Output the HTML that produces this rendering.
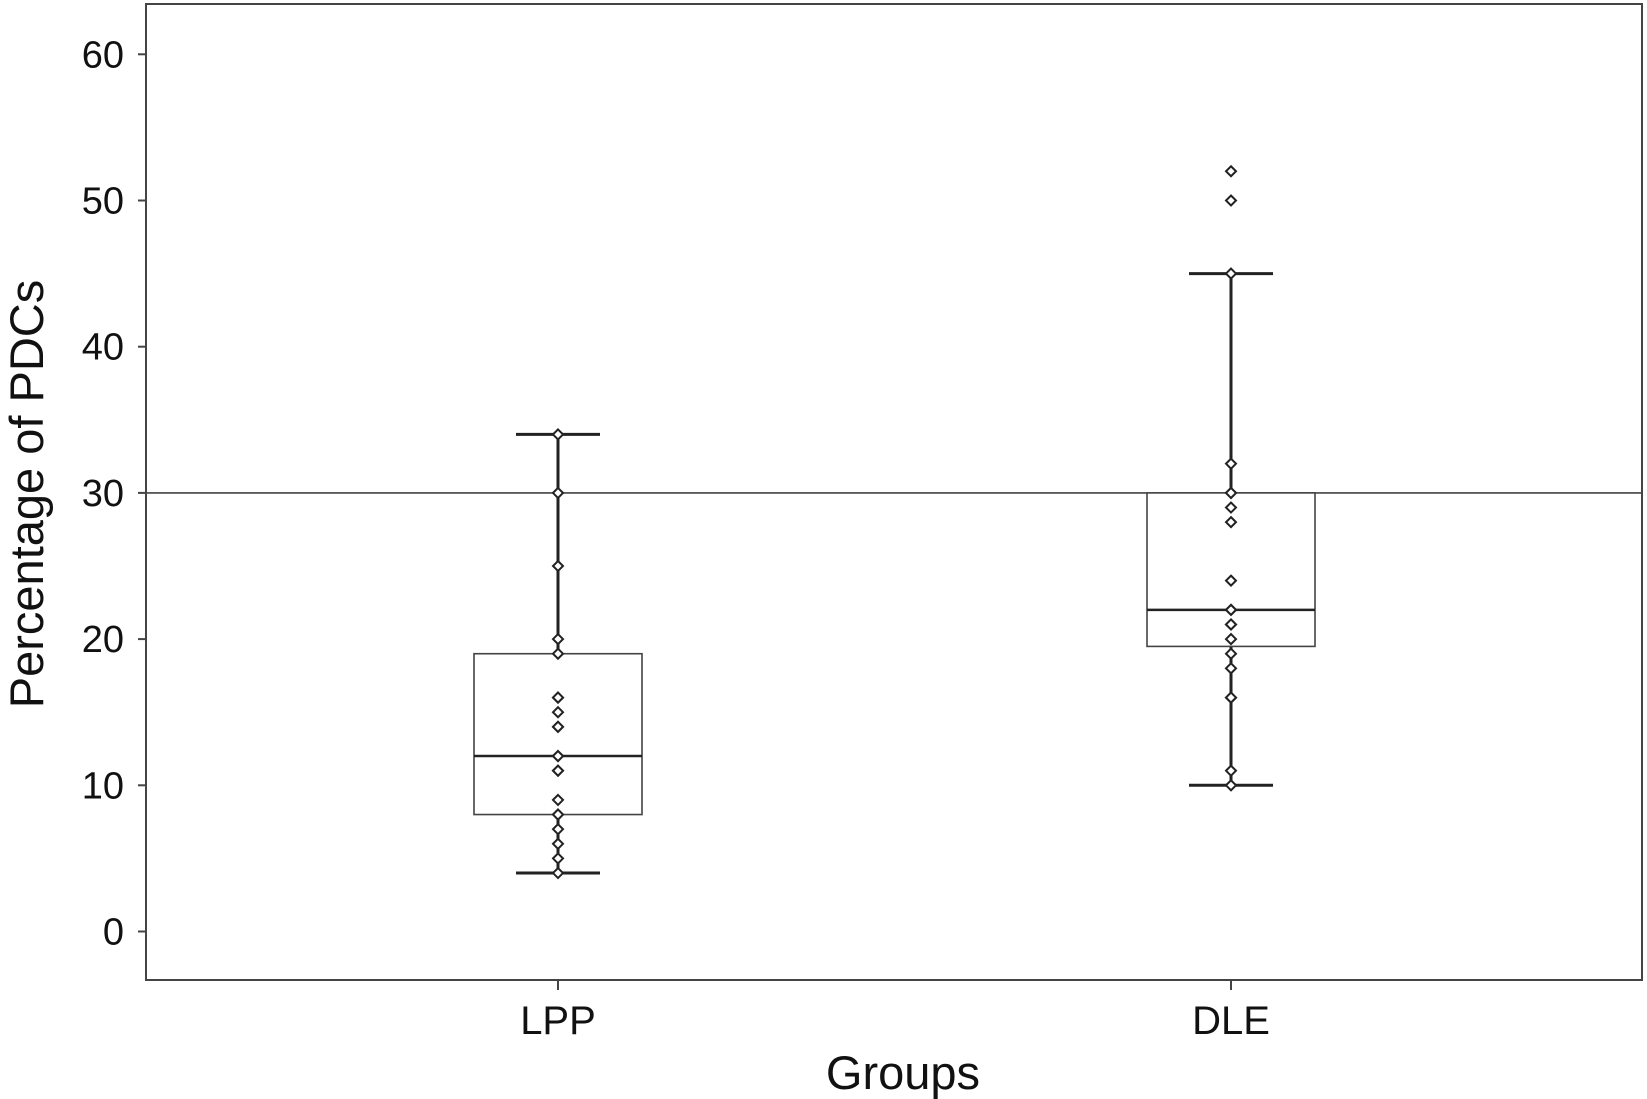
<!DOCTYPE html>
<html><head><meta charset="utf-8"><style>
body{margin:0;background:#fff;}
svg{display:block;font-family:"Liberation Sans",sans-serif;}
</style></head><body>
<svg id="chart" width="1647" height="1099" viewBox="0 0 1647 1099"></svg>
<script>
const categories = ["LPP","DLE"];
const mins = [4,10];
const q1s = [8,19.5];
const medians = [12,22];
const q3s = [19,30];
const maxs = [34,45];
const pointsLPP = [34,30,25,20,19,16,16,15,14,14,12,12,11,11,9,8,8,7,6,5,4];
const pointsDLE = [52,50,45,32,30,30,29,28,24,22,22,21,21,20,19,18,16,16,11,10];
const yTicks = [0,10,20,30,40,50,60];
const refValue = 30;

const svg = document.getElementById('chart');
const NS = 'http://www.w3.org/2000/svg';
const L=146,R=1642,T=4,B=980;
const y = v => 931.5 - v*14.62;
const xPos = [558,1231];
const x = i => xPos[i];
function mk(tag, attrs, parent){const e=document.createElementNS(NS,tag);for(const k in attrs)e.setAttribute(k,attrs[k]);(parent||svg).appendChild(e);return e;}

const frame = mk('rect',{x:L,y:T,width:R-L,height:B-T,fill:'none',stroke:'#444','stroke-width':2});



yTicks.forEach(v=>{
  const t = mk('line',{x1:L-8,x2:L,y1:y(v),y2:y(v),stroke:'#444','stroke-width':2});
  
  
  const lb = mk('text',{x:L-22,y:y(v)+13,'text-anchor':'end','font-size':38,fill:'#111'});
  lb.textContent = v;
  
  
});

const ref = mk('line',{x1:L,x2:R,y1:y(refValue),y2:y(refValue),stroke:'#444','stroke-width':1.6});



const allPts=[pointsLPP,pointsDLE];
categories.forEach((c,i)=>{
  const cx=x(i), bw=84, cw=42;
  const g = mk('g',{});
  
  
  const w1 = mk('line',{x1:cx,x2:cx,y1:y(q3s[i]),y2:y(maxs[i]),stroke:'#222','stroke-width':3},g);
  
  
  const w2 = mk('line',{x1:cx,x2:cx,y1:y(q1s[i]),y2:y(mins[i]),stroke:'#222','stroke-width':3},g);
  
  
  [maxs[i],mins[i]].forEach(v=>{
    const cap = mk('line',{x1:cx-cw,x2:cx+cw,y1:y(v),y2:y(v),stroke:'#222','stroke-width':3},g);
    
    
  });
  const box = mk('rect',{x:cx-bw,y:y(q3s[i]),width:2*bw,height:y(q1s[i])-y(q3s[i]),fill:'#fff',stroke:'#444','stroke-width':1.6},g);
  
  
  const md = mk('line',{x1:cx-bw,x2:cx+bw,y1:y(medians[i]),y2:y(medians[i]),stroke:'#222','stroke-width':2.5},g);
  
  
  allPts[i].forEach(v=>{
    const py=y(v), s=5;
    const p = mk('polygon',{points:`${cx},${py-s} ${cx+s},${py} ${cx},${py+s} ${cx-s},${py}`,fill:'#fff',stroke:'#222','stroke-width':2},g);
    
    
  });
  const xt = mk('line',{x1:cx,x2:cx,y1:B,y2:B+10,stroke:'#444','stroke-width':2});
  
  
  const xl = mk('text',{x:cx,y:1034,'text-anchor':'middle','font-size':40,fill:'#111'});
  xl.textContent=c;
  
  
});

const xTitle = mk('text',{x:903,y:1089,'text-anchor':'middle','font-size':47,fill:'#111'});
xTitle.textContent='Groups';


const yTitle = mk('text',{x:0,y:0,'text-anchor':'middle','font-size':47,fill:'#111',transform:'translate(43,494) rotate(-90)'});
yTitle.textContent='Percentage of PDCs';


</script>
</body></html>
